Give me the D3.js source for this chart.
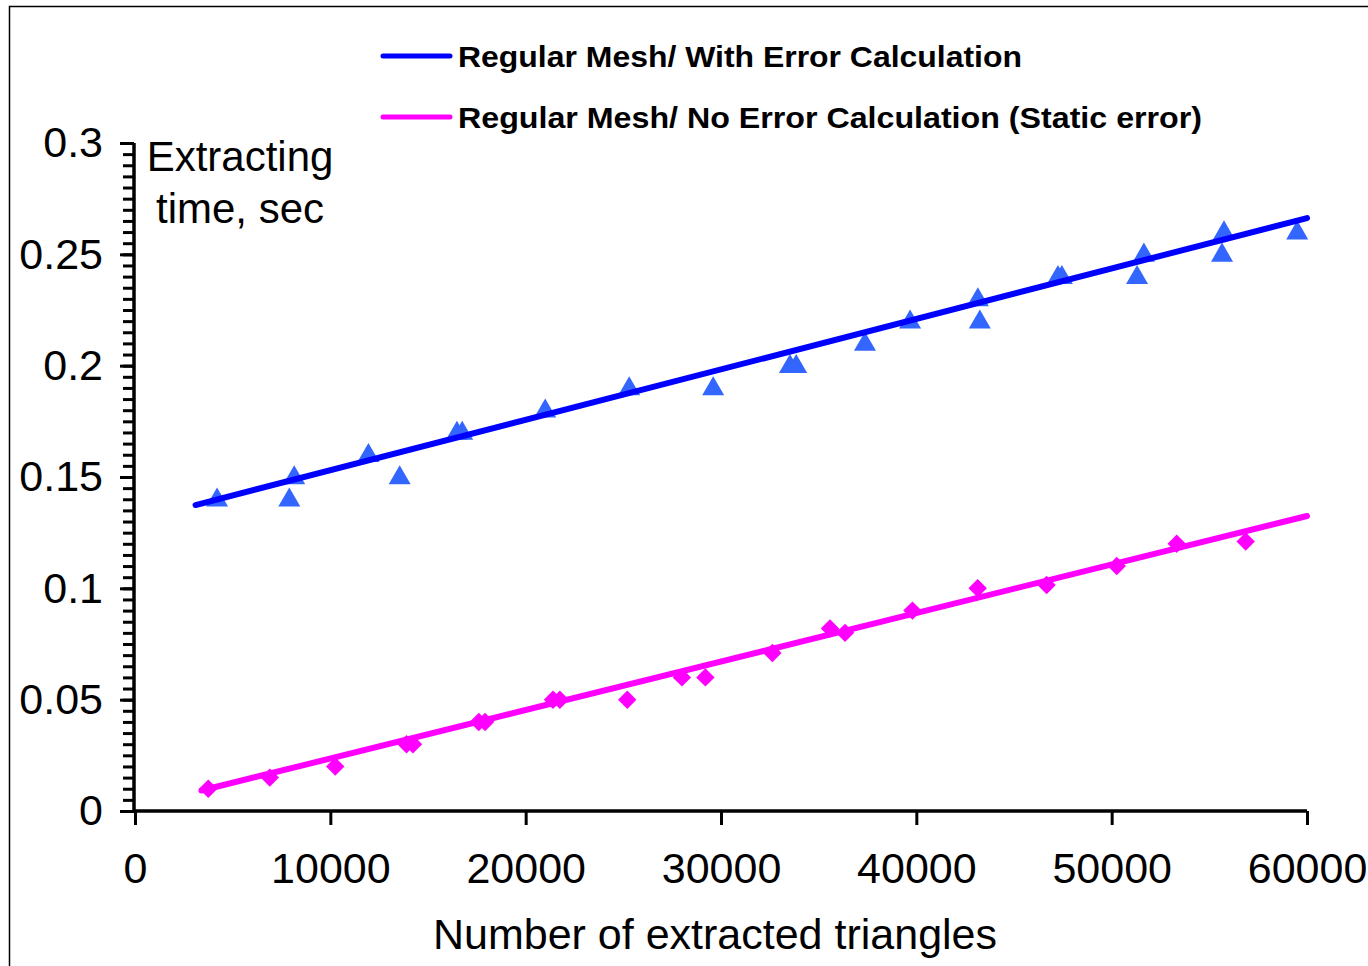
<!DOCTYPE html>
<html>
<head>
<meta charset="utf-8">
<script src="https://cdn.jsdelivr.net/npm/d3@7"></script>
<style>
  html, body { margin: 0; padding: 0; background: #fff; }
  svg { display: block; }
  text { font-family: "Liberation Sans", Arial, sans-serif; }
</style>
</head>
<body>
<svg id="chart" width="1368" height="966"></svg>
<script>
// ---- data ----
const withErrX = [4200, 7900, 8150, 11950, 13550, 16480, 16750, 21000, 25300, 29600, 33530, 33850, 37370, 39680, 43150, 43250, 47250, 47450, 51300, 51650, 55650, 55750, 59500];
const withErrY = [0.14, 0.14, 0.15, 0.16, 0.15, 0.17, 0.17, 0.18, 0.19, 0.19, 0.20, 0.20, 0.21, 0.22, 0.23, 0.22, 0.24, 0.24, 0.24, 0.25, 0.25, 0.26, 0.26];
const noErrX = [3750, 6900, 10250, 13900, 14230, 17600, 17920, 21400, 21750, 25200, 28000, 29200, 32630, 35580, 36350, 39800, 43140, 46670, 50260, 53330, 56860];
const noErrY = [0.01, 0.015, 0.02, 0.03, 0.03, 0.04, 0.04, 0.05, 0.05, 0.05, 0.06, 0.06, 0.071, 0.082, 0.08, 0.09, 0.10, 0.1015, 0.11, 0.12, 0.121];
// trend lines (start/end)
const withErrTrendX = [3100, 60000];
const withErrTrendY = [0.1374, 0.2663];
const noErrTrendX = [3400, 60000];
const noErrTrendY = [0.0092, 0.1325];
const xTicks = [0, 10000, 20000, 30000, 40000, 50000, 60000];
const yTicks = [0, 0.05, 0.1, 0.15, 0.2, 0.25, 0.3];
const yTickLabels = ["0", "0.05", "0.1", "0.15", "0.2", "0.25", "0.3"];
const legendLabels = ["Regular Mesh/ With Error Calculation", "Regular Mesh/ No Error Calculation (Static error)"];
const xTitle = "Number of extracted triangles";
const yTitle = ["Extracting", "time, sec"];

// ---- drawing ----
const svg = d3.select("#chart");
const x = d3.scaleLinear().domain([0, 60000]).range([135, 1307]);
const y = d3.scaleLinear().domain([0, 0.3]).range([811, 143]);
const FONT = "'Liberation Sans', Arial, sans-serif";

// outer frame
svg.append("path").attr("d", "M9.5,966 L9.5,6.5 L1368,6.5")
  .attr("fill", "none").attr("stroke", "#000").attr("stroke-width", 1.5);

// y axis minor ticks
const yMinor = d3.range(0, 61).map(i => i * 0.005);
const yAxisMinor = d3.axisLeft(y).tickValues(yMinor).tickSize(11).tickFormat("");
const gyMinor = svg.append("g").attr("transform", "translate(134,0)").call(yAxisMinor);
gyMinor.select(".domain").remove();
gyMinor.selectAll("line").attr("stroke", "#000").attr("stroke-width", 3);

// y axis major
const yAxis = d3.axisLeft(y).tickValues(yTicks).tickSize(14)
  .tickFormat((d, i) => yTickLabels[i]).tickPadding(17);
const gy = svg.append("g").attr("transform", "translate(134,0)").call(yAxis);
gy.select(".domain").attr("d", `M0,${y(0)}V${y(0.3)}`).attr("stroke", "#000").attr("stroke-width", 3.5);
gy.selectAll("line").attr("stroke", "#000").attr("stroke-width", 3);
gy.selectAll("text").attr("font-size", 43).attr("fill", "#000").style("font-family", FONT);

// x axis
const xAxis = d3.axisBottom(x).tickValues(xTicks).tickSize(14).tickFormat(d3.format("d")).tickPadding(27);
const gx = svg.append("g").attr("transform", `translate(0,${y(0)})`).call(xAxis);
gx.select(".domain").attr("d", `M${x(0) - 2},0H${x(60000)}`).attr("stroke", "#000").attr("stroke-width", 3.5);
gx.selectAll("line").attr("stroke", "#000").attr("stroke-width", 3);
gx.selectAll("text").attr("font-size", 43).attr("fill", "#000").style("font-family", FONT);

// axis titles
svg.append("text").attr("x", 715).attr("y", 949).attr("text-anchor", "middle")
  .attr("font-size", 43).text(xTitle);
svg.append("text").attr("x", 240).attr("y", 171).attr("text-anchor", "middle")
  .attr("font-size", 42).text(yTitle[0]);
svg.append("text").attr("x", 240).attr("y", 223).attr("text-anchor", "middle")
  .attr("font-size", 42).text(yTitle[1]);

// markers
const tri = d3.symbol().type(d3.symbolTriangle).size(210);
const sq = d3.symbol().type(d3.symbolSquare).size(170);
svg.append("g").selectAll("path").data(withErrX.map((v, i) => [v, withErrY[i]])).join("path")
  .attr("d", tri).attr("transform", d => `translate(${x(d[0])},${y(d[1]) + 1})`)
  .attr("fill", "#3366ff");
svg.append("g").selectAll("path").data(noErrX.map((v, i) => [v, noErrY[i]])).join("path")
  .attr("d", sq).attr("transform", d => `translate(${x(d[0])},${y(d[1])}) rotate(45)`)
  .attr("fill", "#ff00ff");

// trend lines
const line = d3.line().x(d => x(d[0])).y(d => y(d[1]));
svg.append("path").datum(withErrTrendX.map((v, i) => [v, withErrTrendY[i]]))
  .attr("d", line).attr("fill", "none").attr("stroke", "#0000ff").attr("stroke-width", 6).attr("stroke-linecap", "round");
svg.append("path").datum(noErrTrendX.map((v, i) => [v, noErrTrendY[i]]))
  .attr("d", line).attr("fill", "none").attr("stroke", "#ff00ff").attr("stroke-width", 6).attr("stroke-linecap", "round");

// legend
const legColors = ["#0000ff", "#ff00ff"];
const legY = [56, 117];
legendLabels.forEach((t, i) => {
  svg.append("line").attr("x1", 383).attr("x2", 450).attr("y1", legY[i]).attr("y2", legY[i])
    .attr("stroke", legColors[i]).attr("stroke-width", 5).attr("stroke-linecap", "round");
  const tx = svg.append("text").attr("x", 458).attr("y", legY[i] + 11)
    .attr("font-size", 30).attr("font-weight", "bold").text(t);
  tx.attr("textLength", i === 0 ? 564 : 744).attr("lengthAdjust", "spacingAndGlyphs");
});
</script>
</body>
</html>
